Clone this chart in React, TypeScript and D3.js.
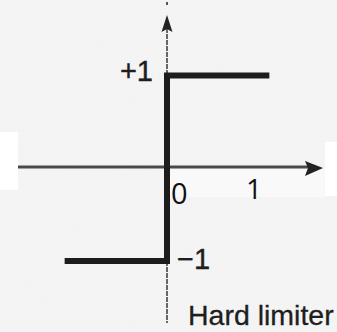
import React from "react";
import * as d3 from "d3";

const W = 337;
const H = 332;

// step function (hard limiter) samples
const stepX = [-1.15, 0, 0, 1.15];
const stepY = [-1, -1, 1, 1];
const yTickLabels = ["+1", "\u22121"];
const xTickLabels = ["0", "1"];
const title = "Hard limiter";

export default function App() {
  const x = d3.scaleLinear().domain([0, 1]).range([167, 256]);
  const y = d3.scaleLinear().domain([-1, 1]).range([261, 75.5]);
  const pts: [number, number][] = stepX.map((v, i) => [x(v), y(stepY[i])]);
  const line = d3.line<[number, number]>().x((d) => d[0]).y((d) => d[1]);
  const axisY = 167;
  const axisX = x(0);
  const sans = "'Liberation Sans', Arial, Helvetica, sans-serif";
  return (
    <svg
      width={W}
      height={H}
      style={{ position: "absolute", left: 0, top: 0 }}
      xmlns="http://www.w3.org/2000/svg"
    >
      <defs>
        <filter id="paper" x="0" y="0" width="100%" height="100%">
          <feTurbulence type="fractalNoise" baseFrequency="0.9" numOctaves="2" seed="3" result="n" />
          <feColorMatrix
            in="n"
            type="matrix"
            values="0 0 0 0 0.88  0 0 0 0 0.88  0 0 0 0 0.88  0 0 0 -0.9 0.7"
          />
        </filter>
      </defs>
      <rect x={0} y={0} width={W} height={H} fill="#f4f4f4" />
      <rect x={0} y={0} width={W} height={H} filter="url(#paper)" opacity={0.45} />
      {/* white patches */}
      <rect x={0} y={132} width={18} height={58} fill="#ffffff" />
      <rect x={325} y={142} width={12} height={54} fill="#ffffff" />
      <rect x={170} y={169} width={155} height={28} fill="#f9f9f9" />
      {/* top tiny mark */}
      <line x1={axisX} x2={axisX} y1={2} y2={5} stroke="#555" strokeWidth={2} />
      {/* vertical axis */}
      <line x1={axisX} x2={axisX} y1={28} y2={y(1)} stroke="#444" strokeWidth={1.6} strokeDasharray="5 1" />
      <line x1={axisX} x2={axisX} y1={y(-1)} y2={323} stroke="#444" strokeWidth={1.6} strokeDasharray="5 1" />
      <path
        d={`M${axisX},15 L${axisX + 5.5},32 L${axisX},29 L${axisX - 5.5},32 Z`}
        fill="#222"
      />
      {/* horizontal axis */}
      <line x1={18} x2={310} y1={axisY} y2={axisY} stroke="#4a4a4a" strokeWidth={3} />
      <path
        d={`M323,${axisY + 1} L305,${axisY - 6} L308,${axisY + 1} L305,${axisY + 9} Z`}
        fill="#222"
      />
      {/* step function */}
      <path
        d={line(pts) || ""}
        fill="none"
        stroke="#1c1c1c"
        strokeWidth={6}
        strokeLinejoin="miter"
        strokeLinecap="butt"
      />
      {/* labels */}
      <text x={153} y={81} fontFamily={sans} fontSize={29} fill="#1e1e1e" stroke="#1e1e1e" strokeWidth={0.4} textAnchor="end">
        {yTickLabels[0]}
      </text>
      <text x={177} y={269} fontFamily={sans} fontSize={29} fill="#1e1e1e" stroke="#1e1e1e" strokeWidth={0.4}>
        {yTickLabels[1]}
      </text>
      <text x={171} y={204} fontFamily="'Open Sans', Lato, sans-serif" fontSize={29} fill="#111">
        {xTickLabels[0]}
      </text>
      <text x={246} y={199} fontFamily="'Open Sans', Lato, sans-serif" fontSize={28} fill="#111">
        {xTickLabels[1]}
      </text>
      <text x={188} y={325} fontFamily={sans} fontSize={28.5} fill="#1e1e1e" stroke="#1e1e1e" strokeWidth={0.3}>
        {title}
      </text>
    </svg>
  );
}
